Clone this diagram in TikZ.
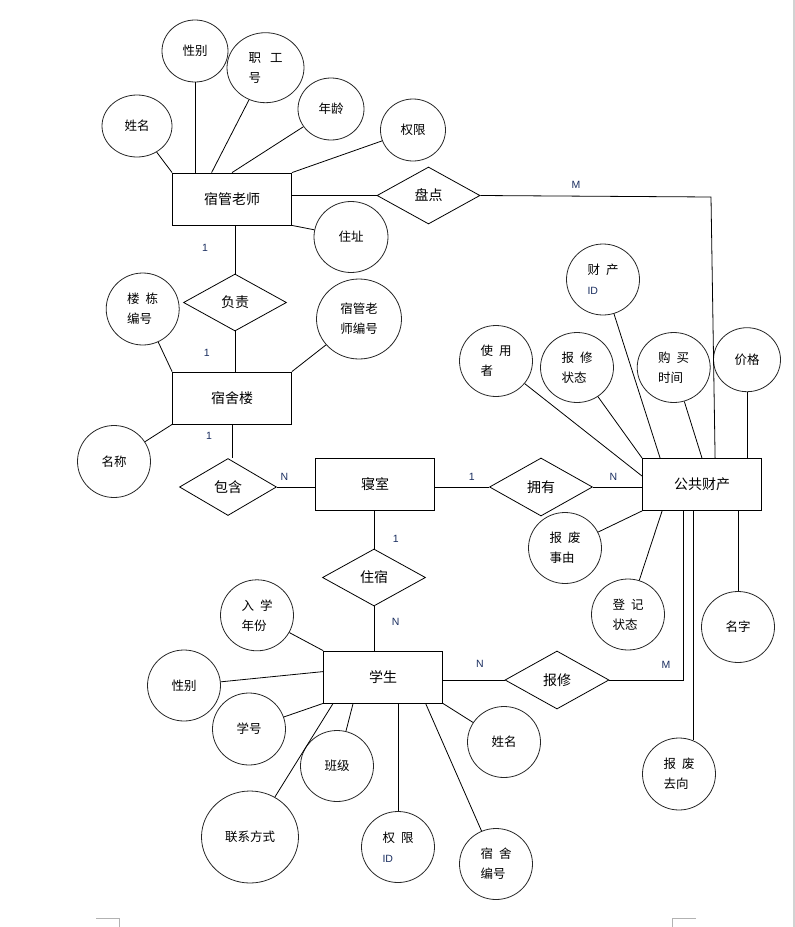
\documentclass[tikz,border=0pt]{standalone}
\usepackage{fontspec}
\setmainfont{Noto Sans CJK SC}
\newfontfamily\latinfont{Liberation Sans}
\usetikzlibrary{shapes.geometric, calc}
\definecolor{cardblue}{RGB}{25,45,95}
\newcommand{\gap}{\hspace{6pt}}
\newcommand{\idtext}{{\latinfont\fontsize{10.5}{20}\selectfont\color{cardblue}ID}}

\begin{document}
\begin{tikzpicture}[
  x=1pt, y=-1pt,
  line width=0.8pt,
  every node/.style={font=\fontsize{12.5}{20}\selectfont},
  ent/.style={draw, minimum width=119pt, minimum height=52pt, inner sep=0pt, font=\fontsize{14}{16}\selectfont},
  rel/.style={draw, diamond, minimum width=103pt, minimum height=57pt, inner sep=0pt, font=\fontsize{14}{16}\selectfont},
  attr/.style={draw=black!85, ellipse, minimum width=73pt, minimum height=71pt, inner sep=0pt, align=left},
  card/.style={inner sep=0pt, text=cardblue, font=\latinfont\fontsize{10.5}{12}\selectfont}
]
  \useasboundingbox (0,0) rectangle (795,927);

  % page edge marks
  \fill[gray!35] (792.5,0) rectangle (795,927);
  \draw[gray!60, line width=0.6pt] (96,918.3) -- (119.3,918.3) -- (119.3,927);
  \draw[gray!60, line width=0.6pt] (695.7,918.3) -- (672.3,918.3) -- (672.3,927);

  % entities
  \node[ent] (t1) at (232,199) {宿管老师};
  \node[ent] (sl) at (232,398) {宿舍楼};
  \node[ent] (qs) at (375,484) {寝室};
  \node[ent] (gc) at (702,484.5) {公共财产};
  \node[ent] (xs) at (383,677) {学生};

  % relations
  \node[rel] (pd) at (428.5,195.5) {盘点};
  \node[rel] (fz) at (235,302.5) {负责};
  \node[rel, minimum width=97pt] (bh) at (228,487) {包含};
  \node[rel, minimum height=58pt] (yy) at (541,487) {拥有};
  \node[rel] (zs) at (374,577.5) {住宿};
  \node[rel, minimum width=104pt, minimum height=58pt] (bx) at (557,680) {报修};

  % attributes of 宿管老师
  \node[attr, minimum width=70pt, minimum height=62pt] (xm1) at (137,126) {姓名};
  \node[attr, minimum width=66pt, minimum height=62pt] (xb1) at (195,51) {性别};
  \node[attr, minimum width=77pt, minimum height=70pt] (gh) at (265.5,67.7) {职\hspace{9pt}工\\号};
  \node[attr, minimum width=66pt, minimum height=62pt] (nl) at (331,109) {年龄};
  \node[attr, minimum width=65pt, minimum height=62pt] (qx1) at (413,130) {权限};
  \node[attr, minimum width=74pt] (zz) at (351,237) {住址};

  % attributes of 宿舍楼
  \node[attr, minimum height=72pt] (ldbh) at (142.7,309) {楼\gap 栋\\编号};
  \node[attr, minimum width=85pt, minimum height=80pt] (sgbh) at (359,319) {宿管老\\师编号};
  \node[attr, minimum height=72pt] (mc) at (114,461.5) {名称};

  % attributes of 公共财产
  \node[attr] (ccid) at (603,279.5) {财\gap 产\\\idtext};
  \node[attr] (syz) at (496,361) {使\gap 用\\者};
  \node[attr, minimum height=70pt] (bxzt) at (577,367.5) {报\gap 修\\状态};
  \node[attr, minimum height=70pt] (gmsj) at (673.7,367.5) {购\gap 买\\时间};
  \node[attr, minimum width=67pt, minimum height=64pt] (jg) at (747,359.7) {价格};
  \node[attr] (bfsy) at (565,548) {报\gap 废\\事由};
  \node[attr] (djzt) at (628,614.5) {登\gap 记\\状态};
  \node[attr] (mz) at (738,627) {名字};
  \node[attr, minimum height=72pt] (bfqx) at (679,774) {报\gap 废\\去向};

  % attributes of 学生
  \node[attr] (rxnf) at (257,615.3) {入\gap 学\\年份};
  \node[attr] (xb2) at (184,685.5) {性别};
  \node[attr, minimum height=72pt] (xh) at (249,729) {学号};
  \node[attr] (bj) at (337,766) {班级};
  \node[attr, minimum width=97pt, minimum height=92pt] (lxfs) at (250,837) {联系方式};
  \node[attr] (qxid) at (398,847) {权\gap 限\\\idtext};
  \node[attr] (xm2) at (504,742) {姓名};
  \node[attr] (ssbh) at (496,864) {宿\gap 舍\\编号};

  % cardinalities
  \node[card] (c1) at (205,248) {1};
  \node[card] (c2) at (576,185) {M};
  \node[card] (c3) at (206.7,352.7) {1};
  \node[card] (c4) at (209,435.7) {1};
  \node[card] (c5) at (284.3,476.7) {N};
  \node[card] (c6) at (471.7,476.7) {1};
  \node[card] (c7) at (613.3,476.7) {N};
  \node[card] (c8) at (395.7,539.3) {1};
  \node[card] (c9) at (395.7,622.3) {N};
  \node[card] (c10) at (480,664.3) {N};
  \node[card] (c11) at (666,664.7) {M};

  % relationship lines
  \coordinate (pdc) at (711,197);
  \draw (pd.west) -- (pd.west -| t1.east);
  \draw (pd.east) -- (pdc) -- ($(gc.north west)+(73,0)$);
  \draw (fz.north) -- (fz.north |- t1.south);
  \draw (fz.south) -- (fz.south |- sl.north);
  \draw (sl.south) -- (sl.south |- bh.north);
  \draw (bh.east) -- (bh.east -| qs.west);
  \draw (yy.west) -- (yy.west -| qs.east);
  \draw (yy.east) -- (yy.east -| gc.west);
  \draw (zs.north) -- (zs.north |- qs.south);
  \draw (zs.south) -- (zs.south |- xs.north);
  \draw (bx.west) -- (bx.west -| xs.east);
  \draw (bx.east) -| ($(gc.south west)+(41,0)$);

  % attribute lines
  \draw (xm1) -- (t1.north west);
  \draw (xb1.south) -- (xb1.south |- t1.north);
  \draw (gh) -- ($(t1.north west)+(39.5,0)$);
  \draw (nl) -- (t1.north);
  \draw (qx1) -- (t1.north east);
  \draw (zz) -- (t1.south east);

  \draw (ldbh) -- (sl.north west);
  \draw (sgbh) -- (sl.north east);
  \draw (mc) -- (sl.south west);

  \draw (syz) -- ($(gc.north west)+(0,18)$);
  \draw (bxzt) -- (gc.north west);
  \draw (ccid) -- ($(gc.north west)+(18,0)$);
  \draw (gmsj) -- (gc.north);
  \draw (jg.south) -- (jg.south |- gc.north);
  \draw (bfsy) -- (gc.south west);
  \draw (djzt) -- ($(gc.south west)+(20,0)$);
  \draw (mz.north) -- (mz.north |- gc.south);
  \draw (bfqx.67) -- (bfqx.67 |- gc.south);

  \draw (rxnf) -- (xs.north west);
  \draw (xb2) -- ($(xs.north west)+(0,21)$);
  \draw (xh) -- (xs.south west);
  \draw (lxfs) -- ($(xs.south west)+(10,0)$);
  \draw (bj) -- ($(xs.south west)+(30,0)$);
  \draw (qxid.north) -- (qxid.north |- xs.south);
  \draw (ssbh) -- ($(xs.south west)+(102.5,0)$);
  \draw (xm2) -- (xs.south east);
\end{tikzpicture}
\end{document}
